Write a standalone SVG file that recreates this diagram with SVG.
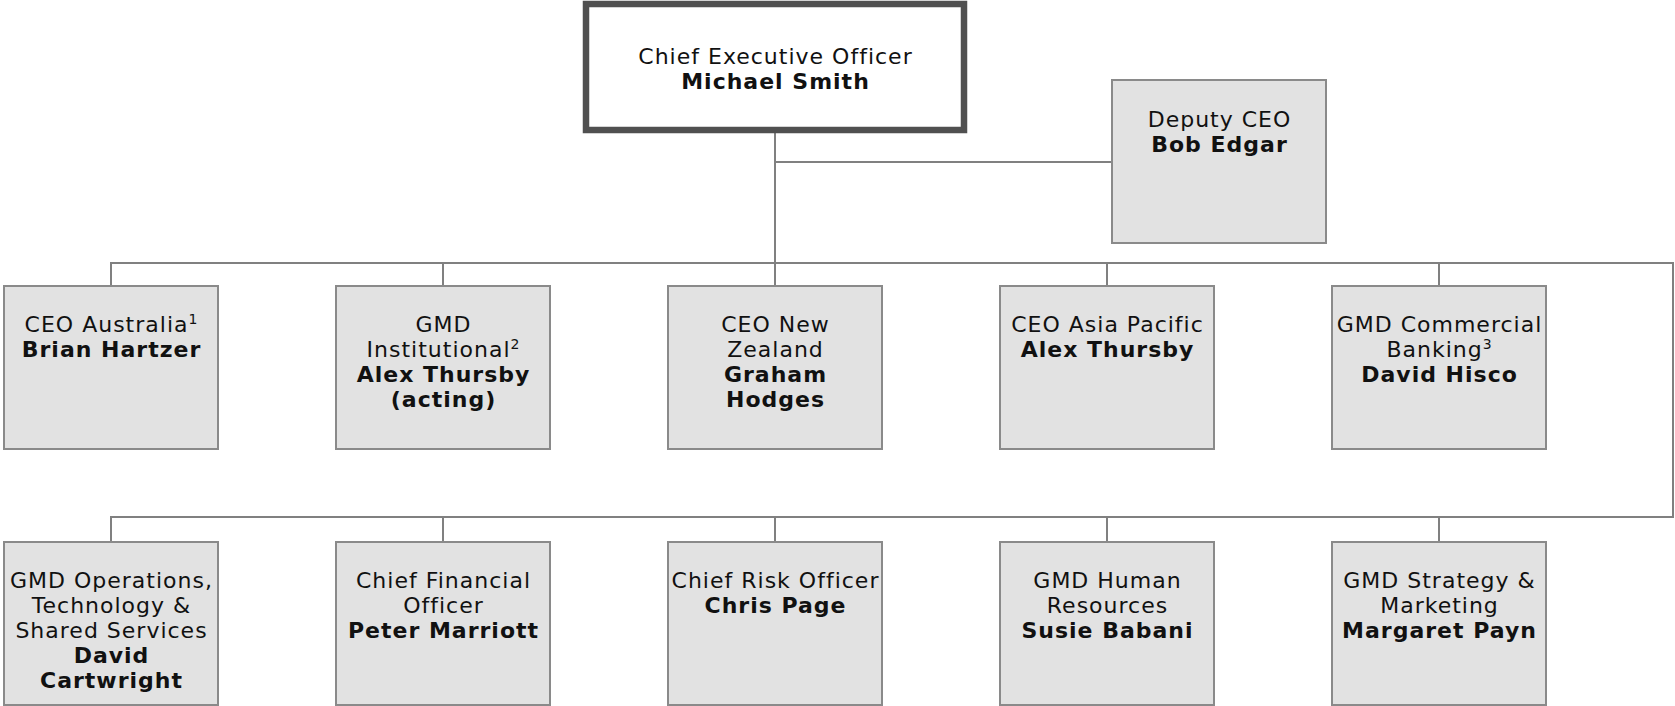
<svg xmlns="http://www.w3.org/2000/svg" width="1675" height="706" viewBox="0 0 1675 706">
<style>
.box{fill:#e2e2e2;stroke:#8a8a8a;stroke-width:2}
.ceo{fill:#ffffff;stroke:#505050;stroke-width:6.5}
.ln{fill:none;stroke:#808080;stroke-width:2}
text{font-family:"DejaVu Sans","Verdana",sans-serif;font-size:22px;letter-spacing:1px;text-anchor:middle;fill:#111}
.b{font-weight:bold}
.sup{font-size:14px}
</style>
<rect width="1675" height="706" fill="#ffffff"/>
<g id="connectors">
<path class="ln" d="M775 133 V286"/>
<path class="ln" d="M775 162 H1112"/>
<path class="ln" d="M111 286 V263 H1673 V517 H111 V542"/>
<path class="ln" d="M443 263 V286 M1107 263 V286 M1439 263 V286"/>
<path class="ln" d="M443 517 V542 M775 517 V542 M1107 517 V542 M1439 517 V542"/>
</g>
<g id="ceo">
<rect class="ceo" x="586" y="4" width="378" height="126"/>
<text x="775.5" y="64">Chief Executive Officer</text>
<text class="b" x="775.5" y="89">Michael Smith</text>
</g>
<g id="deputy">
<rect class="box" x="1112" y="80" width="214" height="163"/>
<text x="1219.5" y="127">Deputy CEO</text>
<text class="b" x="1219.5" y="152">Bob Edgar</text>
</g>
<g id="ceo-australia">
<rect class="box" x="4" y="286" width="214" height="163"/>
<text x="111.5" y="332">CEO Australia<tspan class="sup" dy="-8">1</tspan></text>
<text class="b" x="111.5" y="357">Brian Hartzer</text>
</g>
<g id="gmd-institutional">
<rect class="box" x="336" y="286" width="214" height="163"/>
<text x="443.5" y="332">GMD</text>
<text x="443.5" y="357">Institutional<tspan class="sup" dy="-8">2</tspan></text>
<text class="b" x="443.5" y="382">Alex Thursby</text>
<text class="b" x="443.5" y="407">(acting)</text>
</g>
<g id="ceo-nz">
<rect class="box" x="668" y="286" width="214" height="163"/>
<text x="775.5" y="332">CEO New</text>
<text x="775.5" y="357">Zealand</text>
<text class="b" x="775.5" y="382">Graham</text>
<text class="b" x="775.5" y="407">Hodges</text>
</g>
<g id="ceo-asia">
<rect class="box" x="1000" y="286" width="214" height="163"/>
<text x="1107.5" y="332">CEO Asia Pacific</text>
<text class="b" x="1107.5" y="357">Alex Thursby</text>
</g>
<g id="gmd-commercial">
<rect class="box" x="1332" y="286" width="214" height="163"/>
<text x="1439.5" y="332">GMD Commercial</text>
<text x="1439.5" y="357">Banking<tspan class="sup" dy="-8">3</tspan></text>
<text class="b" x="1439.5" y="382">David Hisco</text>
</g>
<g id="gmd-operations">
<rect class="box" x="4" y="542" width="214" height="163"/>
<text x="111.5" y="588">GMD Operations,</text>
<text x="111.5" y="613">Technology &amp;</text>
<text x="111.5" y="638">Shared Services</text>
<text class="b" x="111.5" y="663">David</text>
<text class="b" x="111.5" y="688">Cartwright</text>
</g>
<g id="cfo">
<rect class="box" x="336" y="542" width="214" height="163"/>
<text x="443.5" y="588">Chief Financial</text>
<text x="443.5" y="613">Officer</text>
<text class="b" x="443.5" y="638">Peter Marriott</text>
</g>
<g id="cro">
<rect class="box" x="668" y="542" width="214" height="163"/>
<text x="775.5" y="588">Chief Risk Officer</text>
<text class="b" x="775.5" y="613">Chris Page</text>
</g>
<g id="gmd-hr">
<rect class="box" x="1000" y="542" width="214" height="163"/>
<text x="1107.5" y="588">GMD Human</text>
<text x="1107.5" y="613">Resources</text>
<text class="b" x="1107.5" y="638">Susie Babani</text>
</g>
<g id="gmd-strategy">
<rect class="box" x="1332" y="542" width="214" height="163"/>
<text x="1439.5" y="588">GMD Strategy &amp;</text>
<text x="1439.5" y="613">Marketing</text>
<text class="b" x="1439.5" y="638">Margaret Payn</text>
</g>
</svg>
